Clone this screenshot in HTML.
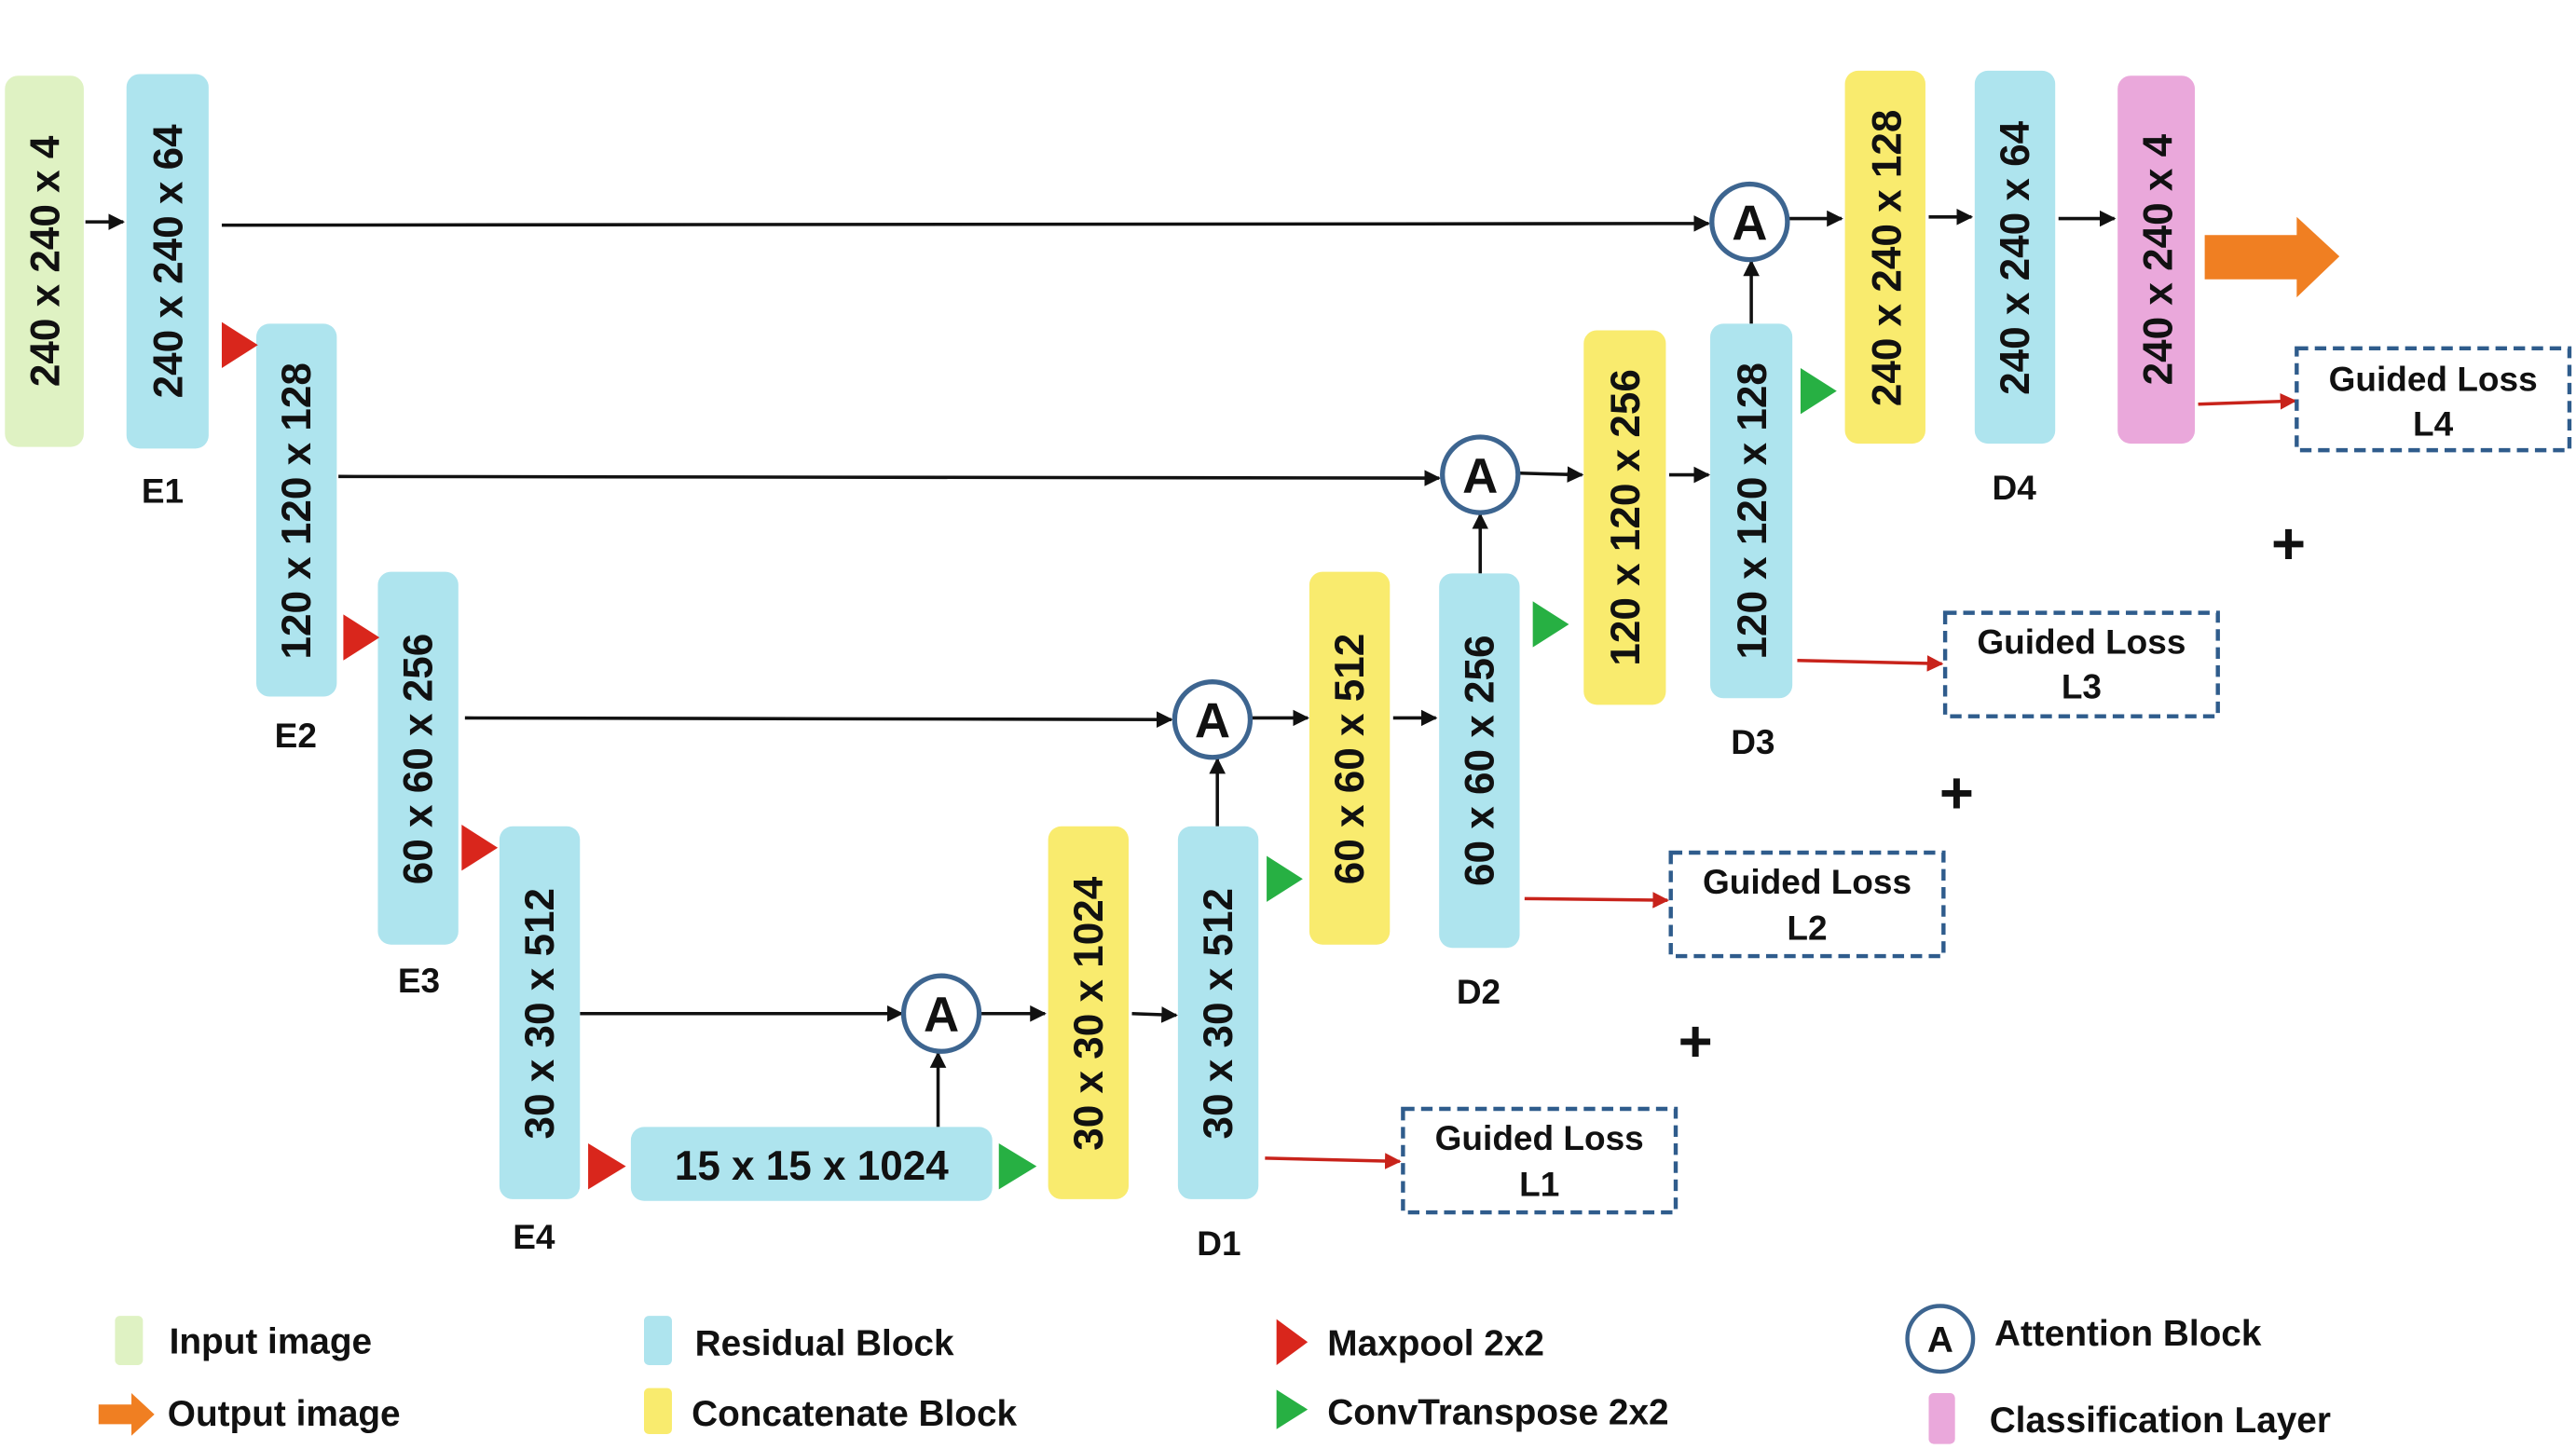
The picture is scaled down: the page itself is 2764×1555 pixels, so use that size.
<!DOCTYPE html>
<html><head><meta charset="utf-8"><style>
html,body{margin:0;padding:0;background:#fff;}
svg{display:block;}
text{font-family:"Liberation Sans",Arial,sans-serif;font-weight:bold;fill:#111;}
</style></head><body>
<svg width="2764" height="1555" viewBox="0 0 1568 882" xmlns="http://www.w3.org/2000/svg">
<defs>
<marker id="ah" viewBox="0 0 10 10" refX="9" refY="5" markerWidth="5" markerHeight="5" orient="auto"><path d="M0,0 L10,5 L0,10 z" fill="#111"/></marker>
<marker id="ahr" viewBox="0 0 10 10" refX="9" refY="5" markerWidth="5" markerHeight="5" orient="auto"><path d="M0,0 L10,5 L0,10 z" fill="#c8231b"/></marker>
</defs>

<!-- skip connection lines -->
<g stroke="#111" stroke-width="2" fill="none">
<line x1="135" y1="137" x2="1040" y2="136" marker-end="url(#ah)"/>
<line x1="206" y1="290" x2="876" y2="291" marker-end="url(#ah)"/>
<line x1="283" y1="437" x2="713" y2="438" marker-end="url(#ah)"/>
<line x1="353" y1="617" x2="549" y2="617" marker-end="url(#ah)"/>
<line x1="52" y1="135" x2="75" y2="135" marker-end="url(#ah)"/>
<line x1="571" y1="686" x2="571" y2="641" marker-end="url(#ah)"/>
<line x1="596" y1="617" x2="636" y2="617" marker-end="url(#ah)"/>
<line x1="689" y1="617" x2="716" y2="618" marker-end="url(#ah)"/>
<line x1="741" y1="503" x2="741" y2="462" marker-end="url(#ah)"/>
<line x1="762" y1="437" x2="796" y2="437" marker-end="url(#ah)"/>
<line x1="848" y1="437" x2="874" y2="437" marker-end="url(#ah)"/>
<line x1="901" y1="349" x2="901" y2="313" marker-end="url(#ah)"/>
<line x1="925" y1="288" x2="963" y2="289" marker-end="url(#ah)"/>
<line x1="1016" y1="289" x2="1040" y2="289" marker-end="url(#ah)"/>
<line x1="1066" y1="197" x2="1066" y2="159" marker-end="url(#ah)"/>
<line x1="1088" y1="133" x2="1121" y2="133" marker-end="url(#ah)"/>
<line x1="1174" y1="132" x2="1200" y2="132" marker-end="url(#ah)"/>
<line x1="1253" y1="133" x2="1287" y2="133" marker-end="url(#ah)"/>
</g>

<!-- blocks -->
<g>
<rect x="3" y="46" width="48" height="226" rx="8" fill="#dff2c3"/>
<text transform="translate(36,159) rotate(-90)" text-anchor="middle" font-size="25">240 x 240 x 4</text>
<rect x="77" y="45" width="50" height="228" rx="8" fill="#aee4ee"/>
<text transform="translate(111,159) rotate(-90)" text-anchor="middle" font-size="25">240 x 240 x 64</text>
<rect x="156" y="197" width="49" height="227" rx="8" fill="#aee4ee"/>
<text transform="translate(189,311) rotate(-90)" text-anchor="middle" font-size="25">120 x 120 x 128</text>
<rect x="230" y="348" width="49" height="227" rx="8" fill="#aee4ee"/>
<text transform="translate(263,462) rotate(-90)" text-anchor="middle" font-size="25">60 x 60 x 256</text>
<rect x="304" y="503" width="49" height="227" rx="8" fill="#aee4ee"/>
<text transform="translate(337,617) rotate(-90)" text-anchor="middle" font-size="25">30 x 30 x 512</text>
<rect x="384" y="686" width="220" height="45" rx="8" fill="#aee4ee"/>
<text x="494" y="718" text-anchor="middle" font-size="25">15 x 15 x 1024</text>
<rect x="638" y="503" width="49" height="227" rx="8" fill="#f9eb6e"/>
<text transform="translate(671,617) rotate(-90)" text-anchor="middle" font-size="25">30 x 30 x 1024</text>
<rect x="717" y="503" width="49" height="227" rx="8" fill="#aee4ee"/>
<text transform="translate(750,617) rotate(-90)" text-anchor="middle" font-size="25">30 x 30 x 512</text>
<rect x="797" y="348" width="49" height="227" rx="8" fill="#f9eb6e"/>
<text transform="translate(830,462) rotate(-90)" text-anchor="middle" font-size="25">60 x 60 x 512</text>
<rect x="876" y="349" width="49" height="228" rx="8" fill="#aee4ee"/>
<text transform="translate(909,463) rotate(-90)" text-anchor="middle" font-size="25">60 x 60 x 256</text>
<rect x="964" y="201" width="50" height="228" rx="8" fill="#f9eb6e"/>
<text transform="translate(998,315) rotate(-90)" text-anchor="middle" font-size="25">120 x 120 x 256</text>
<rect x="1041" y="197" width="50" height="228" rx="8" fill="#aee4ee"/>
<text transform="translate(1075,311) rotate(-90)" text-anchor="middle" font-size="25">120 x 120 x 128</text>
<rect x="1123" y="43" width="49" height="227" rx="8" fill="#f9eb6e"/>
<text transform="translate(1157,157) rotate(-90)" text-anchor="middle" font-size="25">240 x 240 x 128</text>
<rect x="1202" y="43" width="49" height="227" rx="8" fill="#aee4ee"/>
<text transform="translate(1235,157) rotate(-90)" text-anchor="middle" font-size="25">240 x 240 x 64</text>
<rect x="1289" y="46" width="47" height="224" rx="8" fill="#eaa8db"/>
<text transform="translate(1322,158) rotate(-90)" text-anchor="middle" font-size="25">240 x 240 x 4</text>
</g>

<!-- block labels -->
<g font-size="21">
<text x="99" y="306" text-anchor="middle">E1</text>
<text x="180" y="455" text-anchor="middle">E2</text>
<text x="255" y="604" text-anchor="middle">E3</text>
<text x="325" y="760" text-anchor="middle">E4</text>
<text x="742" y="764" text-anchor="middle">D1</text>
<text x="900" y="611" text-anchor="middle">D2</text>
<text x="1067" y="459" text-anchor="middle">D3</text>
<text x="1226" y="304" text-anchor="middle">D4</text>
</g>

<!-- maxpool triangles -->
<g fill="#d9261c">
<polygon points="135,196 157,210 135,224"/>
<polygon points="209,374 231,388 209,402"/>
<polygon points="281,502 303,516 281,530"/>
<polygon points="358,696 381,710 358,724"/>
</g>
<g fill="#27b043">
<polygon points="608,696 631,710 608,724"/>
<polygon points="771,521 793,535 771,549"/>
<polygon points="933,366 955,380 933,394"/>
<polygon points="1096,224 1118,238 1096,252"/>
</g>

<!-- attention blocks -->
<g>
<g><circle cx="573" cy="617" r="23" fill="#fff" stroke="#3d6590" stroke-width="3"/><text x="573" y="628" text-anchor="middle" font-size="30">A</text></g>
<g><circle cx="738" cy="438" r="23" fill="#fff" stroke="#3d6590" stroke-width="3"/><text x="738" y="449" text-anchor="middle" font-size="30">A</text></g>
<g><circle cx="901" cy="289" r="23" fill="#fff" stroke="#3d6590" stroke-width="3"/><text x="901" y="300" text-anchor="middle" font-size="30">A</text></g>
<g><circle cx="1065" cy="135" r="23" fill="#fff" stroke="#3d6590" stroke-width="3"/><text x="1065" y="146" text-anchor="middle" font-size="30">A</text></g>
</g>

<!-- output arrow -->
<polygon points="1342,143 1398,143 1398,132 1424,156 1398,181 1398,170 1342,170" fill="#f07f22"/>

<!-- guided losses -->
<g stroke="#c8231b" stroke-width="2">
<line x1="1338" y1="246" x2="1397" y2="244" marker-end="url(#ahr)"/>
<line x1="1094" y1="402" x2="1182" y2="404" marker-end="url(#ahr)"/>
<line x1="928" y1="547" x2="1015" y2="548" marker-end="url(#ahr)"/>
<line x1="770" y1="705" x2="852" y2="707" marker-end="url(#ahr)"/>
</g>
<g font-size="21">
<g><rect x="1398" y="212" width="166" height="62" fill="#fff" stroke="#2f5c8c" stroke-width="2.5" stroke-dasharray="7,4"/><text x="1481" y="238" text-anchor="middle">Guided Loss</text><text x="1481" y="265" text-anchor="middle">L4</text></g>
<g><rect x="1184" y="373" width="166" height="63" fill="#fff" stroke="#2f5c8c" stroke-width="2.5" stroke-dasharray="7,4"/><text x="1267" y="398" text-anchor="middle">Guided Loss</text><text x="1267" y="425" text-anchor="middle">L3</text></g>
<g><rect x="1017" y="519" width="166" height="63" fill="#fff" stroke="#2f5c8c" stroke-width="2.5" stroke-dasharray="7,4"/><text x="1100" y="544" text-anchor="middle">Guided Loss</text><text x="1100" y="572" text-anchor="middle">L2</text></g>
<g><rect x="854" y="675" width="166" height="63" fill="#fff" stroke="#2f5c8c" stroke-width="2.5" stroke-dasharray="7,4"/><text x="937" y="700" text-anchor="middle">Guided Loss</text><text x="937" y="728" text-anchor="middle">L1</text></g>
</g>
<g font-size="36">
<text x="1393" y="343" text-anchor="middle">+</text>
<text x="1191" y="495" text-anchor="middle">+</text>
<text x="1032" y="646" text-anchor="middle">+</text>
</g>

<!-- legend -->
<g font-size="22">
<g><rect x="70" y="801" width="17" height="30" rx="3" fill="#dff2c3"/><text x="103" y="824">Input image</text></g>
<g><polygon points="60,855 80,855 80,848 94,861 80,874 80,867 60,867" fill="#f07f22"/><text x="102" y="868">Output image</text></g>
<g><rect x="392" y="801" width="17" height="30" rx="3" fill="#aee4ee"/><text x="423" y="825">Residual Block</text></g>
<g><rect x="392" y="845" width="17" height="28" rx="3" fill="#f9eb6e"/><text x="421" y="868">Concatenate Block</text></g>
<g><polygon points="777,803 796,817 777,831" fill="#d9261c"/><text x="808" y="825">Maxpool 2x2</text></g>
<g><polygon points="777,846 796,858 777,870" fill="#27b043"/><text x="808" y="867">ConvTranspose 2x2</text></g>
<g><circle cx="1181" cy="815" r="20" fill="#fff" stroke="#3d6590" stroke-width="2.5"/><text x="1181" y="823" text-anchor="middle" font-size="22">A</text><text x="1214" y="819">Attention Block</text></g>
<g><rect x="1174" y="848" width="16" height="31" rx="3" fill="#eaa8db"/><text x="1211" y="872">Classification Layer</text></g>
</g>
</svg>
</body></html>
